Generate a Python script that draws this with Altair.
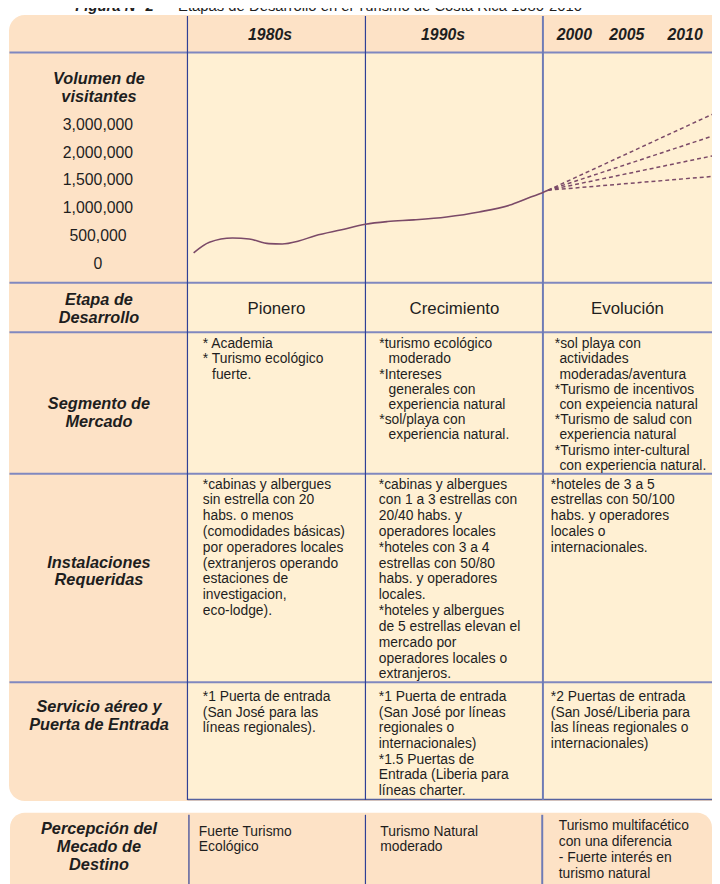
import altair as alt
import pandas as pd

# ---------------- data ----------------
title_bold = "Figura N° 2"
title_rest = "Etapas de Desarrollo en el Turismo de Costa Rica 1980-2010"

decade_headers = ["1980s", "1990s"]
future_years = ["2000", "2005", "2010"]

row_labels = [
    ["Volumen de", "visitantes"],
    ["Etapa de", "Desarrollo"],
    ["Segmento de", "Mercado"],
    ["Instalaciones", "Requeridas"],
    ["Servicio aéreo y", "Puerta de Entrada"],
    ["Percepción del", "Mecado de", "Destino"],
]

tick_values = [0, 500000, 1000000, 1500000, 2000000, 3000000]
tick_labels = ["0", "500,000", "1,000,000", "1,500,000", "2,000,000", "3,000,000"]

line_years = [1980.32, 1981.21, 1982.51, 1983.45, 1984.56, 1985.31, 1986.24,
              1987.17, 1988.66, 1990.0, 1991.25, 1992.72, 1994.57, 1996.41,
              1998.25, 1999.35, 1999.94, 2000.3]
line_visitors = [194000, 382000, 458000, 440000, 359000, 352000, 405000,
                 500000, 609000, 710000, 759000, 790000, 844000, 935000,
                 1070000, 1206000, 1276000, 1324000]

scenario_start_year = 2000.3
scenario_start_visitors = 1324000
scenario_end_year = 2010
scenario_end_visitors = [3400000, 2600000, 1940000, 1570000]

etapa = ["Pionero", "Crecimiento", "Evolución"]

# (leading spaces mark the indented continuation lines)
segmento = [
    ["* Academia", "* Turismo ecológico", "  fuerte."],
    ["*turismo ecológico", "  moderado", "*Intereses", "  generales con",
     "  experiencia natural", "*sol/playa con", "  experiencia natural."],
    ["*sol playa con", " actividades", " moderadas/aventura",
     "*Turismo de incentivos", " con expeiencia natural", "*Turismo de salud con",
     " experiencia natural", "*Turismo inter-cultural", " con experiencia natural."],
]

instalaciones = [
    ["*cabinas y albergues", "sin estrella con 20", "habs. o menos",
     "(comodidades básicas)", "por operadores locales", "(extranjeros operando",
     "estaciones de", "investigacion,", "eco-lodge)."],
    ["*cabinas y albergues", "con 1 a 3 estrellas con", "20/40 habs. y",
     "operadores locales", "*hoteles con 3 a 4", "estrellas con 50/80",
     "habs. y operadores", "locales.", "*hoteles y albergues",
     "de 5 estrellas elevan el", "mercado por", "operadores locales o", "extranjeros."],
    ["*hoteles de 3 a 5", "estrellas con 50/100", "habs. y operadores",
     "locales o", "internacionales."],
]

servicio = [
    ["*1 Puerta de entrada", "(San José para las", "líneas regionales)."],
    ["*1 Puerta de entrada", "(San José por líneas", "regionales o",
     "internacionales)", "*1.5 Puertas de", "Entrada (Liberia para", "líneas charter."],
    ["*2 Puertas de entrada", "(San José/Liberia para", "las líneas regionales o",
     "internacionales)"],
]

percepcion = [
    ["Fuerte Turismo", "Ecológico"],
    ["Turismo Natural", "moderado"],
    ["Turismo multifacético", "con una diferencia", "- Fuerte interés en", "turismo natural"],
]

# ---------------- style ----------------
FONT = "Liberation Sans"
PEACH = "#fde2c6"
CREAM = "#fff0d3"
LINE = "#7b4a68"
SEP = "#8088bf"
DIV = "#2f4096"
TXT = "#1e1e1e"
OFF = 8  # page margin
INDENT = 4.7

ONE = alt.Data(values=[{}])


def rect(x1, x2, y1, y2, color, **kw):
    return alt.Chart(ONE).mark_rect(color=color, **kw).encode(
        x=alt.value(x1 - OFF), x2=alt.value(x2 - OFF),
        y=alt.value(y1 - OFF), y2=alt.value(y2 - OFF))


def hrule(y, x1, x2, color, w):
    return alt.Chart(ONE).mark_rule(color=color, strokeWidth=w).encode(
        x=alt.value(x1 - OFF), x2=alt.value(x2 - OFF), y=alt.value(y - OFF))


def vrule(x, y1, y2, color, w):
    return alt.Chart(ONE).mark_rule(color=color, strokeWidth=w).encode(
        x=alt.value(x - OFF), y=alt.value(y1 - OFF), y2=alt.value(y2 - OFF))


def text_line(txt, x, y, size, align="left", style="normal", weight="normal",
              color=TXT, baseline="middle"):
    return alt.Chart(ONE).mark_text(
        text=txt, align=align, baseline=baseline, fontSize=size,
        font=FONT, fontStyle=style, fontWeight=weight, color=color
    ).encode(x=alt.value(x - OFF), y=alt.value(y - OFF))


def text_lines(lines, x, y_first, lh, size=14, **kw):
    out = []
    for i, ln in enumerate(lines):
        n = len(ln) - len(ln.lstrip(" "))
        out.append(text_line(ln.strip(), x + n * INDENT, y_first + i * lh, size, **kw))
    return out


xs = alt.Scale(domain=[1980, 1990, 2000, 2010],
               range=[190 - OFF, 369.5 - OFF, 549 - OFF, 720 - OFF],
               nice=False, zero=False)
ys = alt.Scale(domain=tick_values,
               range=[261.7 - OFF, 233.3 - OFF, 205.7 - OFF, 177.3 - OFF,
                      149.3 - OFF, 121.7 - OFF],
               nice=False, zero=False)

layers = []

# panels
layers.append(rect(9, 740, 10, 805, PEACH, cornerRadiusTopLeft=16, cornerRadiusBottomLeft=16))
layers.append(rect(189.5, 740, 48, 803.5, CREAM))
layers.append(rect(10, 720, 817, 900, PEACH, cornerRadiusTopLeft=15, cornerRadiusTopRight=15))

# separators
layers.append(hrule(48, 9.5, 740, "#7f87c0", 2))
for yy in [281, 331, 474, 685]:
    layers.append(hrule(yy, 9.5, 740, SEP, 2))
layers.append(hrule(803.5, 189.5, 740, "#56629f", 1.5))

# dividers
layers.append(vrule(189.5, 11, 804, DIV, 1.2))
layers.append(vrule(369.5, 11, 804, DIV, 1.2))
layers.append(vrule(549, 11, 804, "#6e7bb6", 2))
layers.append(vrule(191, 819, 890, DIV, 1.2))
layers.append(vrule(369.5, 819, 890, DIV, 1.2))
layers.append(vrule(548.3, 819, 890, "#6e7bb6", 2))

# visitor curve
df_line = pd.DataFrame({"year": line_years, "visitors": line_visitors})
layers.append(alt.Chart(df_line).mark_line(
    color=LINE, strokeWidth=1.6, interpolate="monotone").encode(
    x=alt.X("year:Q", scale=xs, axis=None),
    y=alt.Y("visitors:Q", scale=ys, axis=None)))

# scenario fan
fan_rows = []
for i, v in enumerate(scenario_end_visitors):
    fan_rows.append({"s": i, "year": scenario_start_year, "visitors": scenario_start_visitors})
    fan_rows.append({"s": i, "year": scenario_end_year, "visitors": v})
df_fan = pd.DataFrame(fan_rows)
layers.append(alt.Chart(df_fan).mark_line(
    color=LINE, strokeWidth=1.5, strokeDash=[4, 3]).encode(
    x=alt.X("year:Q", scale=xs, axis=None),
    y=alt.Y("visitors:Q", scale=ys, axis=None),
    detail="s:N"))

# tick labels of the visitor scale
df_ticks = pd.DataFrame({"v": tick_values, "label": tick_labels})
layers.append(alt.Chart(df_ticks).mark_text(
    font=FONT, fontSize=16, color=TXT, align="center", baseline="middle").encode(
    x=alt.value(99 - OFF),
    y=alt.Y("v:Q", scale=ys, axis=None),
    text="label:N"))

# headers
layers.append(text_line(decade_headers[0], 273, 30, 16, align="center",
                        style="italic", weight="bold"))
layers.append(text_line(decade_headers[1], 448, 30, 16, align="center",
                        style="italic", weight="bold"))
for lbl, xx in zip(future_years, [563, 616, 675]):
    layers.append(text_line(lbl, xx, 30, 16, style="italic", weight="bold"))

# row labels
label_first_y = [75, 298.5, 403.5, 564, 710, 833]
label_lh = [18, 18, 18, 18, 18.5, 18.5]
for lines, yy, lh in zip(row_labels, label_first_y, label_lh):
    layers += text_lines(lines, 100, yy, lh, size=16.5, align="center",
                         style="italic", weight="bold")

# Etapa row
for lbl, xx in zip(etapa, [279.5, 459.5, 634.5]):
    layers.append(text_line(lbl, xx, 307.5, 17, align="center"))

for lines, xx in zip(segmento, [205, 383.5, 561]):
    layers += text_lines(lines, xx, 343, 15.4)
for lines, xx in zip(instalaciones, [205, 383, 557]):
    layers += text_lines(lines, xx, 485, 16)
for lines, xx in zip(servicio, [205, 383, 557]):
    layers += text_lines(lines, xx, 700, 15.8)
layers += text_lines(percepcion[0], 201, 836, 16)
layers += text_lines(percepcion[1], 384.5, 836, 16)
layers += text_lines(percepcion[2], 565, 830, 16.2)

# title, cut by the top edge as in the original
layers.append(text_line(title_bold, 76, 6, 15, style="italic", weight="bold",
                        baseline="alphabetic"))
layers.append(text_line(title_rest, 180, 6, 15, baseline="alphabetic"))

chart = alt.layer(*layers).properties(
    width=712, height=876,
    autosize=alt.AutoSizeParams(type="none"), padding=0,
    background="white",
).configure_view(stroke=None)

chart.save("out.html", embed_options={"renderer": "svg", "actions": False})
